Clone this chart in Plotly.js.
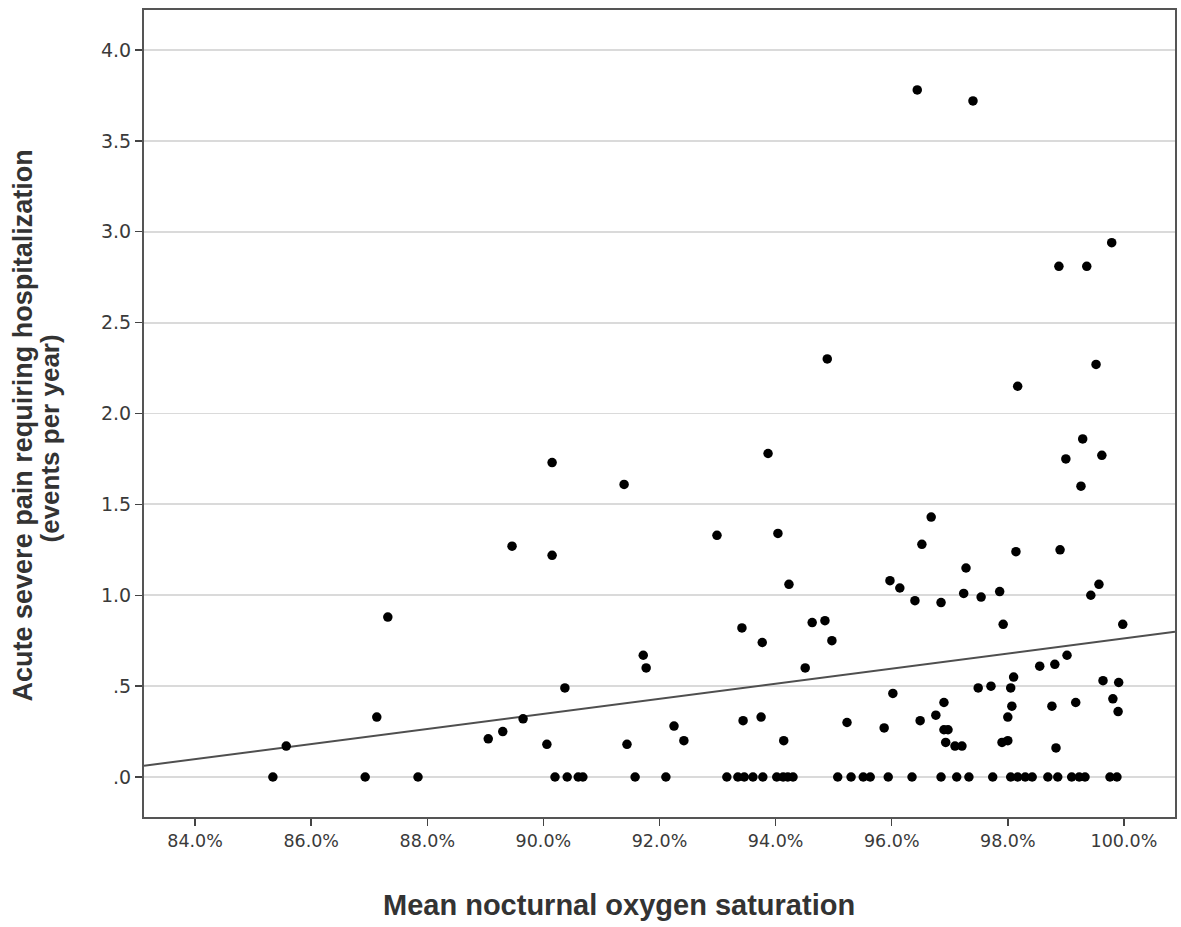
<!DOCTYPE html>
<html>
<head>
<meta charset="utf-8">
<script src="https://cdn.plot.ly/plotly-3.0.1.min.js"></script>
<style>
  html, body { margin: 0; padding: 0; background: #ffffff; }
  #chart { width: 1181px; height: 927px; }
</style>
</head>
<body>
<div id="chart"></div>
<script>
// Mean nocturnal oxygen saturation (%) and acute severe pain events per year
const satZero = [85.34, 86.93, 87.84, 90.20, 90.41, 90.60, 90.68, 91.58, 92.11, 93.16,
  93.35, 93.46, 93.61, 93.78, 94.02, 94.13, 94.21, 94.30, 95.07, 95.30,
  95.51, 95.63, 95.94, 96.35, 96.85, 97.12, 97.33, 97.74, 98.05, 98.17,
  98.30, 98.42, 98.69, 98.86, 99.10, 99.23, 99.33, 99.76, 99.88];
const painZero = satZero.map(() => 0);

const satOther = [85.57, 87.13, 87.32, 89.05, 89.30, 89.46, 89.65, 90.06, 90.15, 90.15,
  90.37, 91.39, 91.44, 91.72, 91.77, 92.25, 92.42, 92.99, 93.42, 93.44,
  93.75, 93.77, 93.87, 94.04, 94.14, 94.23, 94.51, 94.63, 94.85, 94.89,
  94.97, 95.23, 95.87, 95.97, 96.02, 96.14, 96.40, 96.44, 96.49, 96.52,
  96.68, 96.76, 96.85, 96.90, 96.90, 96.97, 96.93, 97.09, 97.21, 97.24,
  97.28, 97.40, 97.49, 97.54, 97.71, 97.86, 97.90, 97.92, 98.00, 98.00,
  98.05, 98.07, 98.10, 98.14, 98.17, 98.55, 98.76, 98.81, 98.83, 98.88,
  98.90, 99.00, 99.02, 99.17, 99.26, 99.29, 99.36, 99.43, 99.52, 99.57,
  99.62, 99.64, 99.79, 99.81, 99.90, 99.91, 99.98];
const painOther = [0.17, 0.33, 0.88, 0.21, 0.25, 1.27, 0.32, 0.18, 1.73, 1.22,
  0.49, 1.61, 0.18, 0.67, 0.60, 0.28, 0.20, 1.33, 0.82, 0.31,
  0.33, 0.74, 1.78, 1.34, 0.20, 1.06, 0.60, 0.85, 0.86, 2.30,
  0.75, 0.30, 0.27, 1.08, 0.46, 1.04, 0.97, 3.78, 0.31, 1.28,
  1.43, 0.34, 0.96, 0.41, 0.26, 0.26, 0.19, 0.17, 0.17, 1.01,
  1.15, 3.72, 0.49, 0.99, 0.50, 1.02, 0.19, 0.84, 0.20, 0.33,
  0.49, 0.39, 0.55, 1.24, 2.15, 0.61, 0.39, 0.62, 0.16, 2.81,
  1.25, 1.75, 0.67, 0.41, 1.60, 1.86, 2.81, 1.00, 2.27, 1.06,
  1.77, 0.53, 2.94, 0.43, 0.36, 0.52, 0.84];

// Linear fit line endpoints
const fitSat = [83.12, 100.88];
const fitPain = [0.062, 0.799];

const xTickVals = [84, 86, 88, 90, 92, 94, 96, 98, 100];
const xTickText = ['84.0%', '86.0%', '88.0%', '90.0%', '92.0%', '94.0%', '96.0%', '98.0%', '100.0%'];
const yTickVals = [0, 0.5, 1, 1.5, 2, 2.5, 3, 3.5, 4];
const yTickText = ['.0', '.5', '1.0', '1.5', '2.0', '2.5', '3.0', '3.5', '4.0'];

const xTitle = 'Mean nocturnal oxygen saturation';
const yTitleLine1 = 'Acute severe pain requiring hospitalization';
const yTitleLine2 = '(events per year)';

const sat = satZero.concat(satOther);
const pain = painZero.concat(painOther);

const traces = [
  {
    type: 'scatter', mode: 'lines', x: fitSat, y: fitPain,
    line: { color: '#4f4f4f', width: 2 }, hoverinfo: 'skip', showlegend: false
  },
  {
    type: 'scatter', mode: 'markers', x: sat, y: pain,
    marker: { color: '#000000', size: 9.5, line: { width: 0 } }, showlegend: false
  }
];

const titleFontFamily = 'Liberation Sans, Arial, sans-serif';

const layout = {
  width: 1181, height: 927,
  paper_bgcolor: '#ffffff', plot_bgcolor: '#ffffff',
  margin: { l: 144, r: 6, t: 10, b: 110 },
  showlegend: false,
  xaxis: {
    range: [83.12, 100.88],
    tickvals: xTickVals, ticktext: xTickText,
    ticks: 'outside', ticklen: 7, tickwidth: 1.5, tickcolor: '#444444',
    showgrid: false, zeroline: false,
    showline: true, linecolor: '#555555', linewidth: 2, mirror: true,
    tickfont: { family: 'DejaVu Sans, sans-serif', size: 17.5, color: '#3a3a3a' }
  },
  yaxis: {
    range: [-0.22, 4.22],
    tickvals: yTickVals, ticktext: yTickText,
    ticks: 'outside', ticklen: 7, tickwidth: 1.5, tickcolor: '#444444',
    showgrid: true, gridcolor: '#dadada', gridwidth: 1.8, zeroline: false,
    showline: true, linecolor: '#555555', linewidth: 2, mirror: true,
    tickfont: { family: 'DejaVu Sans, sans-serif', size: 19, color: '#3a3a3a' }
  },
  annotations: [
    {
      text: '<b>' + xTitle + '</b>',
      xref: 'paper', yref: 'paper', x: 0.4607, y: -0.109,
      xanchor: 'center', yanchor: 'middle', showarrow: false,
      font: { family: titleFontFamily, size: 29, color: '#333333' }
    },
    {
      text: '<b>' + yTitleLine1 + '</b>',
      xref: 'paper', yref: 'paper', x: -0.1175, y: 0.4850,
      xanchor: 'center', yanchor: 'middle', showarrow: false, textangle: -90,
      font: { family: titleFontFamily, size: 27, color: '#333333' }
    },
    {
      text: '<b>' + yTitleLine2 + '</b>',
      xref: 'paper', yref: 'paper', x: -0.0912, y: 0.4690,
      xanchor: 'center', yanchor: 'middle', showarrow: false, textangle: -90,
      font: { family: titleFontFamily, size: 26, color: '#333333' }
    }
  ]
};

Plotly.newPlot('chart', traces, layout, { displayModeBar: false, staticPlot: true });
</script>
</body>
</html>
